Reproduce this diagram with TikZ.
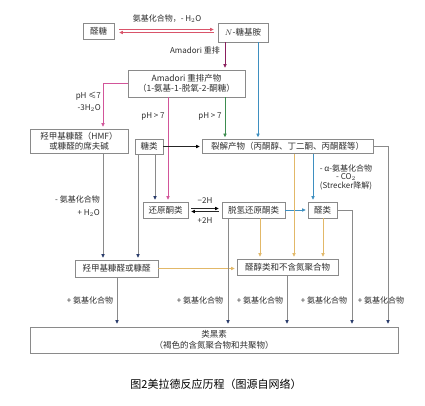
\documentclass[tikz,border=0pt]{standalone}
\usepackage{fontspec}
\setmainfont{Noto Sans CJK SC}
\usetikzlibrary{arrows.meta}
\definecolor{redA}{HTML}{D9546A}
\definecolor{purp}{HTML}{8A1F5E}
\definecolor{pinkA}{HTML}{D2559A}
\definecolor{greenA}{HTML}{3D8C4F}
\definecolor{blueA}{HTML}{3E8FC0}
\definecolor{yellA}{HTML}{E2B868}
\definecolor{grayA}{HTML}{8A8A8A}
\definecolor{navy}{HTML}{283A6A}
\definecolor{boxc}{HTML}{8A8A8A}
\definecolor{txt}{HTML}{2E2E2E}
\begin{document}
\begin{tikzpicture}[x=1pt,y=-1pt,
  box/.style={draw=boxc,line width=0.7pt,inner sep=0pt,align=center,text=txt,font=\fontsize{8.5}{10.5}\selectfont},
  lab/.style={text=txt,font=\fontsize{8}{9.5}\selectfont,inner sep=0pt,align=center},
  ln/.style={line width=0.7pt},
  arr/.style={-{Triangle[length=3.5pt,width=3.2pt,color=#1]}},
  arr/.default=navy]
\useasboundingbox[fill=white] (0,0) rectangle (425,406);
% columns
\foreach \c in {103,117,138,155,168,225,228,258,260,287,294,313,323,352,388}
  \coordinate (c\c) at (\c,0);
% nodes
\node[box,minimum width=31pt,minimum height=16pt] (aldose) at (98.5,31) {醛糖};
\node[box,minimum width=50pt,minimum height=19pt] (nglyc) at (243,32.5) {$N$-糖基胺};
\node[box,minimum width=117pt,minimum height=27pt] (amadori) at (186.5,83.5) {Amadori 重排产物\\（1-氨基-1-脱氧-2-酮糖）};
\node[box,minimum width=98pt,minimum height=24pt] (hmf) at (79,141) {羟甲基糠醛（HMF）\\或糠醛的席夫碱};
\node[box,minimum width=28pt,minimum height=15pt] (sugar) at (149,146.5) {糖类};
\node[box,minimum width=171pt,minimum height=14pt] (crack) at (287.5,146.5) {裂解产物（丙酮醇、丁二酮、丙酮醛等）};
\node[box,minimum width=45pt,minimum height=16pt] (redu) at (165.5,210) {还原酮类};
\node[box,minimum width=63pt,minimum height=16pt] (dehyd) at (253.5,210) {脱氢还原酮类};
\node[box,minimum width=29pt,minimum height=16pt] (ald) at (322.5,210) {醛类};
\node[box,minimum width=83pt,minimum height=17pt] (furf) at (116.5,268.5) {羟甲基糠醛或糠醛};
\node[box,minimum width=101pt,minimum height=16pt] (aldol) at (287.5,267) {醛醇类和不含氮聚合物};
\node[box,minimum width=368pt,minimum height=26pt] (mel) at (214,340) {类黑素\\（褐色的含氮聚合物和共聚物）};
% labels
\node[lab] (l1) at (167,19) {氨基化合物，- H$_2$O};
\node[lab,anchor=east] (l2) at (220,50) {Amadori 重排};
\node[lab,anchor=east] (l3) at (101,96) {pH ≤7};
\node[lab,anchor=east] (l4) at (101,108) {-3H$_2$O};
\node[lab] (l5) at (153,116) {pH \textgreater{} 7};
\node[lab] (l6) at (210,116) {pH \textgreater{} 7};
\node[lab,anchor=east] (l7) at (100,199) {- 氨基化合物};
\node[lab,anchor=east] (l8) at (100,213) {+ H$_2$O};
\node[lab] (l9) at (205,201) {−2H};
\node[lab] (l10) at (205,221) {+2H};
\node[lab] (l11) at (346,177) {- α-氨基化合物\\[-1pt]- CO$_2$\\[-1pt](Strecker降解)};
\foreach \x/\n in {90/a,200/b,260/c,324/d,381/e}
  \node[lab] (p\n) at (\x,300) {+ 氨基化合物};
% caption
\node[text=black,font=\fontsize{11}{13}\selectfont,inner sep=0pt] (cap) at (216,384) {图2美拉德反应历程（图源自网络）};
% connectors
\draw[ln,redA,arr=redA,shorten <=5pt,shorten >=4pt] ([yshift=1.5pt]aldose.east) -- ([yshift=1.5pt]aldose.east -| nglyc.west);
\draw[ln,redA,arr=redA,shorten <=4pt,shorten >=5pt] ([yshift=-1.5pt]aldose.east -| nglyc.west) -- ([yshift=-1.5pt]aldose.east);
\draw[ln,purp,arr=purp,shorten >=2pt] (nglyc.south -| c225) -- (amadori.north -| c225);
\draw[ln,blueA,arr=blueA,shorten >=2pt] (nglyc.south -| c258) -- (crack.north -| c258);
\draw[ln,pinkA,arr=pinkA,shorten >=2pt] (amadori.west) -- (amadori.west -| c103) -- (hmf.north -| c103);
\draw[ln,pinkA,arr=pinkA,shorten >=2pt] (amadori.south -| c168) -- (redu.north -| c168);
\draw[ln,greenA,arr=greenA,shorten >=2pt] (amadori.south -| c225) -- (crack.north -| c225);
\draw[ln,black!85,arr=black,shorten >=2pt] (sugar.east) -- (crack.west);
\draw[ln,grayA,arr,shorten >=2pt] (sugar.south -| c155) -- (redu.north -| c155);
\draw[ln,grayA,arr,shorten >=2pt] (sugar.south -| c138) -- (furf.north -| c138);
\draw[ln,grayA,arr,shorten >=2pt] (hmf.south -| c103) -- (furf.north -| c103);
\draw[ln,black!85,arr=black,shorten <=3pt,shorten >=3pt] ([yshift=1.5pt]redu.east) -- ([yshift=1.5pt]redu.east -| dehyd.west);
\draw[ln,black!85,arr=black,shorten <=3pt,shorten >=3pt] ([yshift=-1.5pt]redu.east -| dehyd.west) -- ([yshift=-1.5pt]redu.east);
\draw[ln,blueA,arr=blueA,shorten >=2pt] (dehyd.east) -- (ald.west);
\draw[ln,blueA,arr=blueA,shorten >=2pt] (crack.south -| c313) -- (ald.north -| c313);
\draw[ln,yellA,arr=yellA,shorten >=2pt] (crack.south -| c294) -- (aldol.north -| c294);
\draw[ln,yellA,arr=yellA,shorten >=2pt] (dehyd.south -| c260) -- (aldol.north -| c260);
\draw[ln,yellA,arr=yellA,shorten >=2pt] (ald.south -| c323) -- (aldol.north -| c323);
\draw[ln,yellA,arr=yellA,shorten >=2pt] (furf.east) -- (furf.east -| aldol.west);
\draw[ln,grayA,arr,shorten >=3pt] (furf.south -| c117) -- (mel.north -| c117);
\draw[ln,grayA,arr,shorten >=3pt] (dehyd.south -| c228) -- (mel.north -| c228);
\draw[ln,grayA,arr,shorten >=3pt] (aldol.south -| c287) -- (mel.north -| c287);
\draw[ln,grayA,arr,shorten >=3pt] (ald.east) -- (ald.east -| c352) -- (mel.north -| c352);
\draw[ln,grayA,arr,shorten >=3pt] (crack.east) -- (crack.east -| c388) -- (mel.north -| c388);
\end{tikzpicture}
\end{document}
